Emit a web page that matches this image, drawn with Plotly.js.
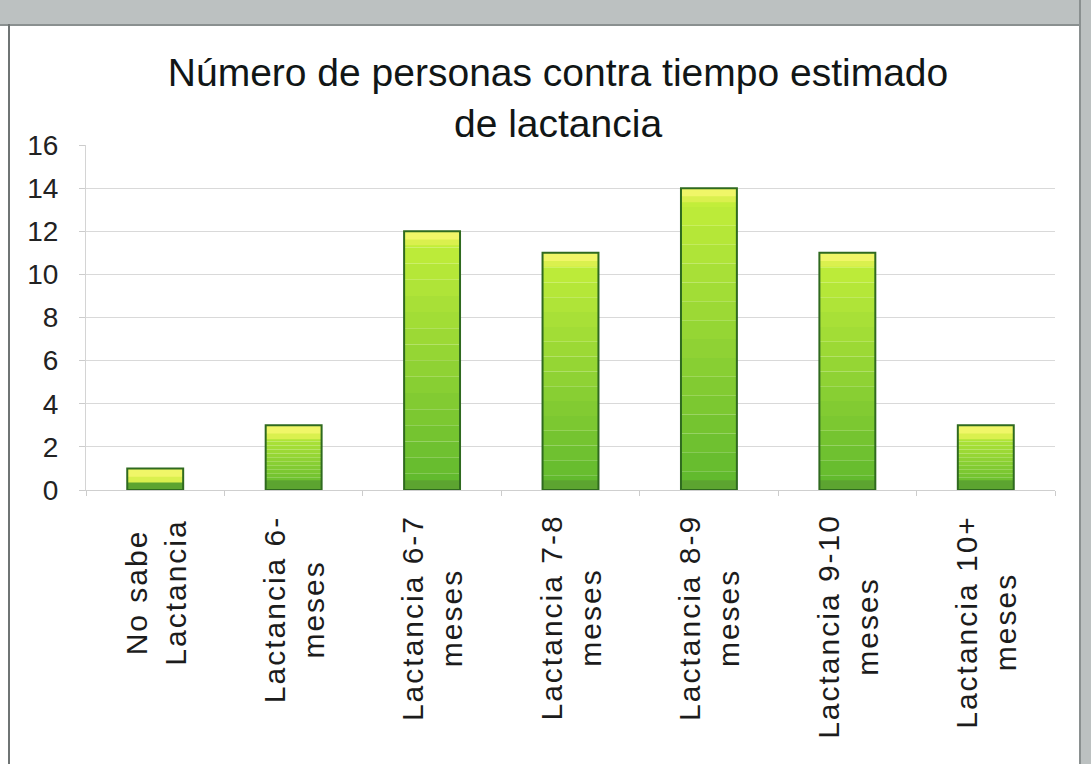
<!DOCTYPE html>
<html>
<head>
<meta charset="utf-8">
<script src="https://cdn.plot.ly/plotly-3.0.1.min.js"></script>
<style>
  html, body { margin:0; padding:0; background:#ffffff; width:1091px; height:764px; overflow:hidden; }
  #topband { position:absolute; left:0; top:0; width:1091px; height:24px; background:#bcc1c1; border-bottom:2px solid #8a9090; }
  #rightband { position:absolute; left:1079px; top:0; width:12px; height:764px; background:#bcc1c1; border-left:2px solid #8a9090; }
  #leftline { position:absolute; left:8px; top:24px; width:2px; height:740px; background:#6f7474; }
  #chart { position:absolute; left:0; top:0; width:1091px; height:764px; }
  #chart .annotation-text { letter-spacing: 2px; }
</style>
</head>
<body>
<div id="topband"></div>
<div id="rightband"></div>
<div id="leftline"></div>
<div id="chart"></div>
<script>
// ---- data ----
const categories = ['No sabe Lactancia', 'Lactancia 6- meses', 'Lactancia 6-7 meses', 'Lactancia 7-8 meses', 'Lactancia 8-9 meses', 'Lactancia 9-10 meses', 'Lactancia 10+ meses'];
const tickLabels = ['No sabe<br>Lactancia', 'Lactancia 6-<br>meses', 'Lactancia 6-7<br>meses', 'Lactancia 7-8<br>meses', 'Lactancia 8-9<br>meses', 'Lactancia 9-10<br>meses', 'Lactancia 10+<br>meses'];
const values = [1, 3, 12, 11, 14, 11, 3];
const titleText = 'Número de personas contra tiempo estimado<br>de lactancia';
const yTicks = [0, 2, 4, 6, 8, 10, 12, 14, 16];

// ---- styling helpers ----
const BAR_W = 0.404;
const N_BANDS = 16;
function lerp(a, b, t) { return Math.round(a + (b - a) * t); }
function mix(c1, c2, t) {
  return 'rgb(' + lerp(c1[0], c2[0], t) + ',' + lerp(c1[1], c2[1], t) + ',' + lerp(c1[2], c2[2], t) + ')';
}
const bottomCol = [98, 186, 46];
const topCol = [194, 238, 58];

const traces = [];
// gradient bands (each bar split into equal fractions of its own height)
for (let k = 0; k < N_BANDS; k++) {
  traces.push({
    type: 'bar', x: categories,
    y: values.map(v => v / N_BANDS),
    base: values.map(v => v * k / N_BANDS),
    width: BAR_W,
    marker: { color: mix(bottomCol, topCol, k / (N_BANDS - 1)), line: { width: 0 } },
    hoverinfo: 'skip', showlegend: false
  });
}
// darker base band
traces.push({
  type: 'bar', x: categories,
  y: values.map(v => Math.min(0.45, v)),
  base: values.map(() => 0),
  width: BAR_W,
  marker: { color: 'rgb(92,164,48)', line: { width: 0 } },
  hoverinfo: 'skip', showlegend: false
});
// yellow top highlight (two tones)
traces.push({
  type: 'bar', x: categories,
  y: values.map(() => 0.3),
  base: values.map(v => v - 0.65),
  width: BAR_W,
  marker: { color: 'rgb(218,240,78)', line: { width: 0 } },
  hoverinfo: 'skip', showlegend: false
});
traces.push({
  type: 'bar', x: categories,
  y: values.map(() => 0.38),
  base: values.map(v => v - 0.38),
  width: BAR_W,
  marker: { color: 'rgb(240,246,104)', line: { width: 0 } },
  hoverinfo: 'skip', showlegend: false
});
// outline + hover
traces.push({
  type: 'bar', x: categories, y: values,
  width: BAR_W,
  marker: { color: 'rgba(0,0,0,0)', line: { color: '#2f6a1f', width: 2 } },
  hovertemplate: '%{x}: %{y}<extra></extra>', showlegend: false
});

const annotations = categories.map((c, i) => ({
  x: c, xref: 'x', y: 0, yref: 'y', yshift: -36,
  xanchor: 'center', yanchor: 'top',
  textangle: -90, align: 'center', showarrow: false,
  text: tickLabels[i],
  font: { family: 'Liberation Sans, Arial, sans-serif', size: 30, color: '#1c1c1c' }
}));

const layout = {
  width: 1091, height: 764,
  margin: { l: 86, r: 36, t: 145, b: 274, pad: 0 },
  paper_bgcolor: 'rgba(0,0,0,0)',
  plot_bgcolor: 'rgba(0,0,0,0)',
  barmode: 'overlay',
  showlegend: false,
  title: {
    text: titleText,
    font: { family: 'Liberation Sans, Arial, sans-serif', size: 39, color: '#111616' },
    xref: 'container', x: 0.5115, xanchor: 'center',
    yref: 'container', y: 0.887, yanchor: 'top'
  },
  xaxis: {
    type: 'category',
    showticklabels: false,
    showgrid: false,
    showline: true, linecolor: '#cfcfcf', linewidth: 1,
    ticks: 'outside', tickson: 'boundaries', ticklen: 5, tickcolor: '#cccccc',
    zeroline: false, fixedrange: true
  },
  yaxis: {
    range: [0, 16],
    tickvals: yTicks,
    ticktext: yTicks.map(String),
    showgrid: true, gridcolor: '#d9d9d9', gridwidth: 1,
    showline: true, linecolor: '#d4d4d4', linewidth: 1,
    ticks: 'outside', ticklen: 6, tickcolor: '#cccccc',
    ticklabelstandoff: 15,
    zeroline: false,
    tickfont: { family: 'Liberation Sans, Arial, sans-serif', size: 28, color: '#222222' },
    fixedrange: true
  },
  annotations: annotations
};

Plotly.newPlot('chart', traces, layout, { displayModeBar: false, staticPlot: true });
</script>
</body>
</html>
